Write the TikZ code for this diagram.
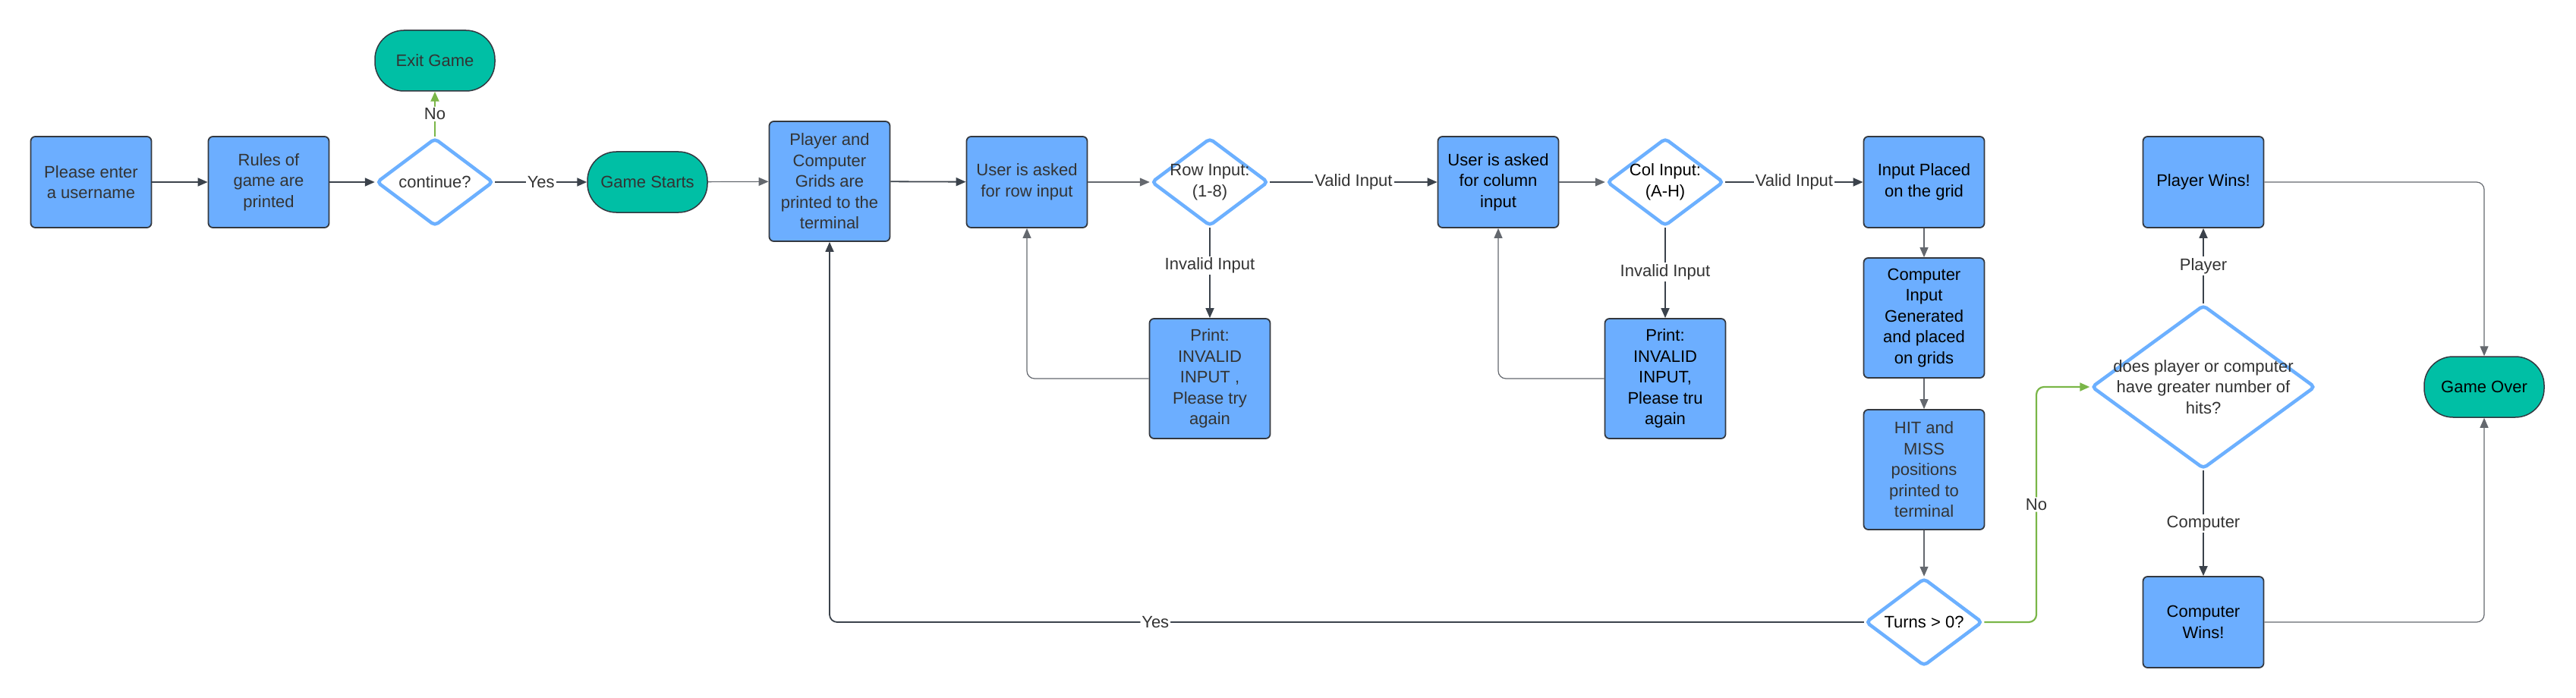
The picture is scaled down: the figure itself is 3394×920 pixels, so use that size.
\documentclass[tikz,border=0pt]{standalone}
\usepackage{fontspec}
\setmainfont{Liberation Sans}
\usetikzlibrary{shapes.geometric,arrows.meta}
\definecolor{boxblue}{RGB}{108,174,255}
\definecolor{diablue}{RGB}{108,176,255}
\definecolor{term}{RGB}{0,191,165}
\definecolor{edge}{RGB}{51,56,64}
\definecolor{txtgray}{RGB}{51,51,51}
\definecolor{connc}{RGB}{59,66,75}
\definecolor{thinc}{RGB}{100,104,110}
\definecolor{grn}{RGB}{122,182,72}
\begin{document}
\begin{tikzpicture}[x=1pt,y=-1pt,
  font=\fontsize{22}{27.5}\selectfont,
  proc/.style={draw=edge, line width=1.8pt, fill=boxblue, rounded corners=6pt, minimum width=159pt, minimum height=120pt, inner sep=0pt, align=center, text=txtgray},
  tall/.style={proc, minimum height=158pt},
  termi/.style={draw=edge, line width=1.5pt, fill=term, rounded corners=38pt, minimum width=158pt, minimum height=80pt, inner sep=0pt, align=center, text=txtgray},
  dia/.style={diamond, draw=diablue, line width=4.5pt, fill=white, rounded corners=5pt, inner sep=0pt, minimum width=154pt, minimum height=116pt},
  dtxt/.style={align=center, inner sep=0pt, text=txtgray},
  conn/.style={draw=connc, line width=1.8pt, -{Triangle[length=13pt,width=11pt]}},
  thin/.style={draw=thinc, line width=1.2pt, -{Triangle[length=13pt,width=11pt]}, rounded corners=10pt},
  gconn/.style={draw=grn, line width=2.2pt, -{Triangle[length=13pt,width=11pt]}, rounded corners=10pt},
  lbl/.style={fill=white, inner sep=2pt, text=txtgray},
]
\useasboundingbox (0,0) rectangle (3394,920);

\node[proc] (user) at (120,240) {Please enter\\a username};
\node[proc] (rules) at (354,240) {Rules of\\game are\\printed};
\node[dia, label={[dtxt]center:continue?}] (cont) at (573,240) {};
\node[termi] (exit) at (573,80) {Exit Game};
\node[termi] (start) at (853,240) {Game Starts};
\node[tall] (pc) at (1093,239) {Player and\\Computer\\Grids are\\printed to the\\terminal};
\node[proc] (rowq) at (1353,240) {User is asked\\for row input};
\node[dia, label={[dtxt]center:{Row Input:\\(1-8)}}] (rowd) at (1594,240) {};
\node[tall] (rowerr) at (1594,499) {Print:\\INVALID\\INPUT ,\\Please try\\again};
\node[proc, text=black] (colq) at (1974,240) {User is asked\\for column\\input};
\node[dia, label={[dtxt,text=black]center:{Col Input:\\(A-H)}}] (cold) at (2194,240) {};
\node[tall, text=black] (colerr) at (2194,499) {Print:\\INVALID\\INPUT,\\Please tru\\again};
\node[proc, text=black] (place) at (2535,240) {Input Placed\\on the grid};
\node[tall, text=black] (comp) at (2535,419) {Computer\\Input\\Generated\\and placed\\on grids};
\node[tall] (hit) at (2535,619) {HIT and\\MISS\\positions\\printed to\\terminal};
\node[dia, label={[dtxt,text=black]center:{Turns > 0?}}] (turns) at (2535,820) {};
\node[dia, minimum width=295pt, minimum height=216pt, label={[dtxt]center:{does player or computer\\have greater number of\\hits?}}] (win) at (2903,510) {};
\node[proc, text=black] (pw) at (2903,240) {Player Wins!};
\node[proc, text=black] (cw) at (2903,820) {Computer\\Wins!};
\node[termi, text=black] (over) at (3273,510) {Game Over};

\draw[conn] (user) -- (rules);
\draw[conn] (rules) -- (cont);
\draw[gconn] (cont) -- node[lbl]{No} (exit);
\draw[conn] (cont) -- node[lbl]{Yes} (start);
\draw[thin] (start) -- (pc);
\draw[conn] (pc) -- (rowq);
\draw[thin] (rowq) -- (rowd);
\draw[conn] (rowd) -- node[lbl]{Valid Input} (colq);
\draw[thin] (colq) -- (cold);
\draw[conn] (cold) -- node[lbl]{Valid Input} (place);
\draw[conn] (rowd) -- node[lbl,pos=0.42]{Invalid Input} (rowerr);
\draw[conn] (cold) -- node[lbl,pos=0.49]{Invalid Input} (colerr);
\draw[thin] (rowerr.west) -| (rowq.south);
\draw[thin] (colerr.west) -| (colq.south);
\draw[thin] (place) -- (comp);
\draw[thin] (comp) -- (hit);
\draw[thin] (hit) -- (turns);
\coordinate (yc) at (1093,820);
\draw[conn, rounded corners=10pt] (turns.west) -- node[lbl,pos=0.685]{Yes} (yc) -- (pc.south);
\coordinate (n1) at (2683,820);
\coordinate (n2) at (2683,510);
\draw[gconn] (turns.east) -- (n1) -- node[lbl]{No} (n2) -- (win.west);
\draw[conn] (win) -- node[lbl]{Player} (pw);
\draw[conn] (win) -- node[lbl]{Computer} (cw);
\draw[thin] (pw.east) -| (over.north);
\draw[thin] (cw.east) -| (over.south);
\end{tikzpicture}
\end{document}
